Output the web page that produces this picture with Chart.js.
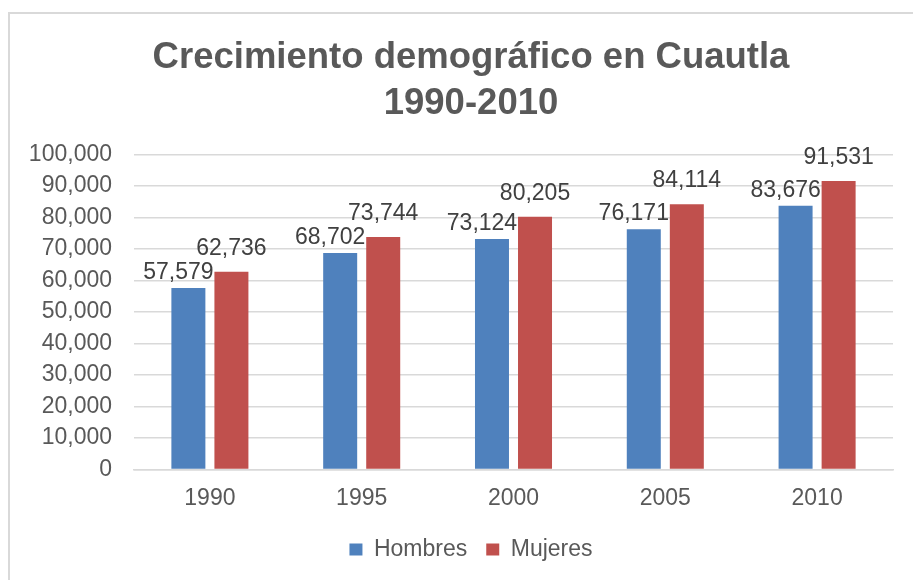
<!DOCTYPE html>
<html>
<head>
<meta charset="utf-8">
<script src="https://cdn.jsdelivr.net/npm/chart.js@4"></script>
<style>
  html, body { margin: 0; padding: 0; background: #fff; overflow: hidden; }
  #frame {
    position: absolute; left: 8px; top: 12px;
    width: 930px; height: 600px;
    border: 2px solid #d9d9d9;
  }
  #chart { display: block; }
</style>
</head>
<body>
<div id="frame"><canvas id="chart" width="930" height="566"></canvas></div>
<script>
const years = ["1990", "1995", "2000", "2005", "2010"];
const hombres = [57579, 68702, 73124, 76171, 83676];
const mujeres = [62736, 73744, 80205, 84114, 91531];
const titleLines = ["Crecimiento demográfico en Cuautla", "1990-2010"];
const yTicks = { min: 0, max: 100000, step: 10000 };

const FONT = "'Liberation Sans', Arial, sans-serif";

// labels above each bar, blue ones sit a bit left and lower like in Excel
const barLabels = {
  id: "barLabels",
  afterDatasetsDraw(chart) {
    const ctx = chart.ctx;
    const shift = [{ dx: -10, gap: 9 }, { dx: 0, gap: 17 }];
    ctx.save();
    ctx.font = "23px " + FONT;
    ctx.fillStyle = "#404040";
    ctx.textAlign = "center";
    ctx.textBaseline = "alphabetic";
    chart.data.datasets.forEach((ds, i) => {
      const meta = chart.getDatasetMeta(i);
      meta.data.forEach((bar, j) => {
        const text = ds.data[j].toLocaleString("en-US");
        ctx.fillText(text, bar.x + shift[i].dx, bar.y - shift[i].gap);
      });
    });
    ctx.restore();
  },
};

new Chart(document.getElementById("chart"), {
  type: "bar",
  data: {
    labels: years,
    datasets: [
      { label: "Hombres", data: hombres, backgroundColor: "#4f81bd", yAxisID: "y" },
      { label: "Mujeres", data: mujeres, backgroundColor: "#c0504d", yAxisID: "y" },
    ],
  },
  options: {
    responsive: false,
    animation: false,
    layout: { padding: { left: 10, right: 18, top: 0, bottom: 9 } },
    datasets: {
      bar: { barPercentage: 0.79, categoryPercentage: 0.567 },
    },
    plugins: {
      title: {
        display: true,
        text: titleLines,
        color: "#595959",
        font: { family: FONT, size: 36.5, weight: "bold", lineHeight: 1.25 },
        padding: { top: 21, bottom: 28 },
      },
      legend: {
        position: "bottom",
        labels: {
          color: "#595959",
          font: { family: FONT, size: 23 },
          boxWidth: 13,
          boxHeight: 12,
          padding: 19,
        },
      },
      tooltip: { enabled: false },
    },
    scales: {
      x: {
        grid: { display: false },
        border: { color: "#d9d9d9", width: 1.5 },
        ticks: { color: "#595959", font: { family: FONT, size: 23 }, padding: 7 },
      },
      y: {
        min: yTicks.min,
        max: yTicks.max,
        afterFit(scale) { scale.width = 114; },
        grid: { color: "#d9d9d9", lineWidth: 1.5, drawTicks: false },
        border: { display: false },
        ticks: {
          stepSize: yTicks.step,
          color: "#595959",
          font: { family: FONT, size: 23 },
          padding: 22,
          callback: (v) => v.toLocaleString("en-US"),
        },
      },
      // empty spacer on the right so title and legend center like the original
      yRight: {
        position: "right",
        grid: { display: false },
        border: { display: false },
        ticks: { display: false },
        afterFit(scale) { scale.width = 29; },
      },
    },
  },
  plugins: [barLabels],
});
</script>
</body>
</html>
